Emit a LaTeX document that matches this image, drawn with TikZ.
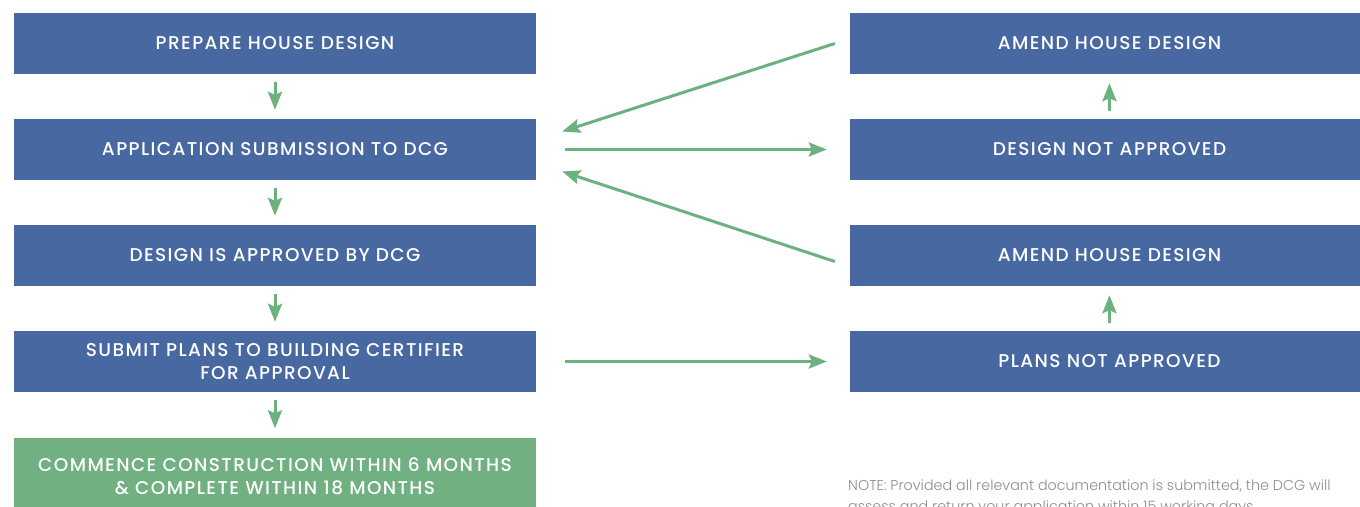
\documentclass[tikz,border=0pt]{standalone}
\usepackage{fontspec}
\setmainfont{Poppins}[UprightFont=* Medium]
\newfontfamily\notefont{Poppins Light}
\usetikzlibrary{arrows.meta}

\definecolor{dcgblue}{HTML}{4868A2}
\definecolor{dcggreen}{HTML}{70B081}
\definecolor{flowgreen}{HTML}{6DB17F}
\definecolor{notegray}{HTML}{8C8C8C}

\begin{document}
\begin{tikzpicture}[x=1pt, y=-1pt, node distance=106pt,
    box/.style = {fill=dcgblue, text=white, minimum width=522pt, minimum height=61pt,
                  align=center, font=\fontsize{18.5}{22.5}\selectfont\addfontfeatures{LetterSpace=7.5}, inner sep=0pt},
    rbox/.style = {box, minimum width=519pt},
    gobox/.style = {box, fill=dcggreen, minimum height=78pt},
    flow/.style = {draw=flowgreen, line width=3pt, -{Stealth[length=18pt, width=14pt, inset=3pt]}},
    down/.style = {flow, shorten <=8pt, shorten >=9pt}]
    \useasboundingbox (0,0) rectangle (1360,506);
    % left column
    \node[box] (l1) at (275,43.5) {PREPARE HOUSE DESIGN};
    \node[box] (l2) [below of=l1] {APPLICATION SUBMISSION TO DCG};
    \node[box] (l3) [below of=l2] {DESIGN IS APPROVED BY DCG};
    \node[box] (l4) [below of=l3] {SUBMIT PLANS TO BUILDING CERTIFIER\\FOR APPROVAL};
    \node[gobox] (l5) [below of=l4, node distance=115pt] {COMMENCE CONSTRUCTION WITHIN 6 MONTHS\\\& COMPLETE WITHIN 18 MONTHS};
    % right column
    \node[rbox] (r1) [right of=l1, node distance=834.5pt] {AMEND HOUSE DESIGN};
    \node[rbox] (r2) [below of=r1] {DESIGN NOT APPROVED};
    \node[rbox] (r3) [below of=r2] {AMEND HOUSE DESIGN};
    \node[rbox] (r4) [below of=r3] {PLANS NOT APPROVED};
    \node[anchor=base west, inner sep=0pt, align=left, text=notegray,
          font=\notefont\fontsize{14.3}{21}\selectfont] (note) at (848,511)
          {NOTE: Provided all relevant documentation is submitted, the DCG will\\
           assess and return your application within 15 working days.};
    % arrows
    \draw[down] (l1) to (l2);
    \draw[down] (l2) to (l3);
    \draw[down] (l3) to (l4);
    \draw[down] (l4) to (l5);
    \draw[down] (r2) to (r1);
    \draw[down] (r4) to (r3);
    \draw[flow, shorten <=29pt, shorten >=23pt] (l2.east) to (r2.west);
    \draw[flow, shorten <=29pt, shorten >=23pt] (l4.east) to (r4.west);
    \draw[flow] ([xshift=-15pt]r1.west) to ([xshift=26pt, yshift=18pt]l2.east);
    \draw[flow] ([xshift=-15pt, yshift=-6pt]r3.west) to ([xshift=26pt, yshift=-22pt]l2.east);
\end{tikzpicture}
\end{document}
